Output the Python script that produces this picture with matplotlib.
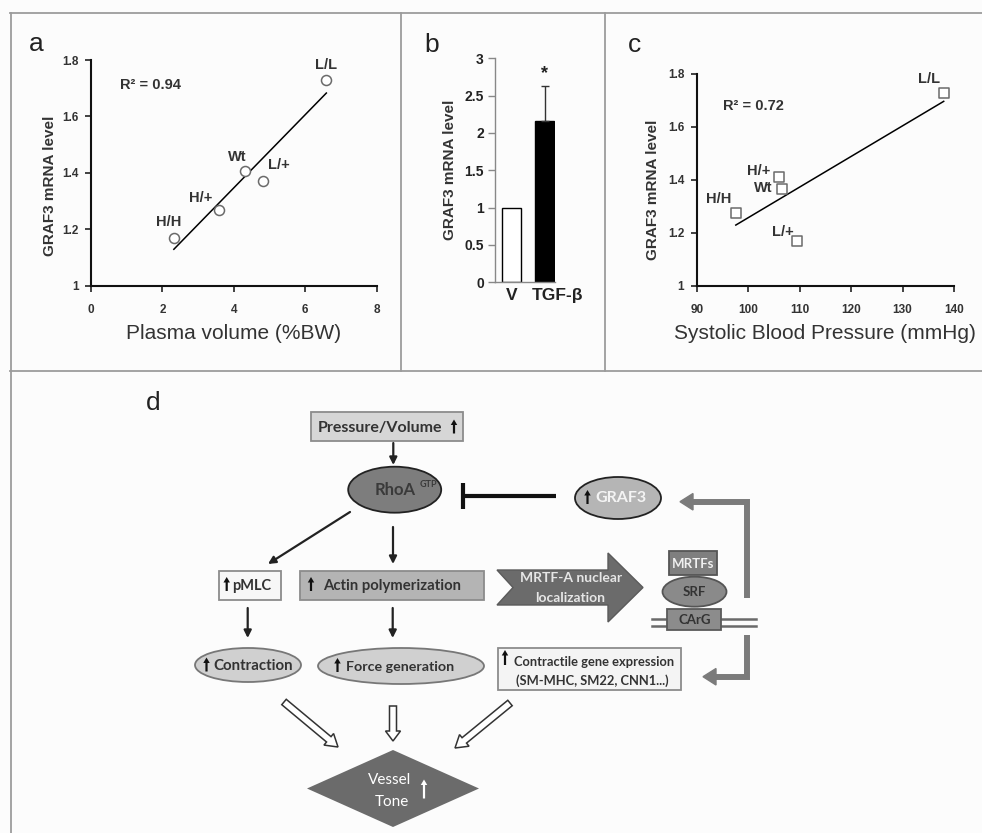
import numpy as np
import matplotlib
matplotlib.use('Agg')
import matplotlib.pyplot as plt
from matplotlib.patches import Rectangle, Ellipse, Polygon, FancyArrow

plt.rcParams['font.family'] = ['Liberation Sans', 'DejaVu Sans']
DIAG = ['Lato', 'DejaVu Sans']

# panel a: GRAF3 vs plasma volume
labels_a = ['H/H', 'H/+', 'Wt', 'L/+', 'L/L']
plasma_volume = [2.32, 3.58, 4.31, 4.82, 6.59]
graf3_a = [1.17, 1.27, 1.405, 1.37, 1.73]

# panel b: GRAF3 after TGF-beta
treatments = ['V', 'TGF-β']
graf3_b = [1.0, 2.16]
graf3_b_err = [0.0, 0.47]

# panel c: GRAF3 vs systolic blood pressure
labels_c = ['H/H', 'H/+', 'Wt', 'L/+', 'L/L']
systolic_bp = [97.6, 105.9, 106.5, 109.5, 138.0]
graf3_c = [1.275, 1.41, 1.365, 1.17, 1.73]

W, H = 982, 833
fig = plt.figure(figsize=(W / 100, H / 100), dpi=100, facecolor='#fcfcfc')


def px_axes(x0, y0, x1, y1):
    # pixel box, origin top-left -> figure fractions
    return fig.add_axes([x0 / W, 1 - y1 / H, (x1 - x0) / W, (y1 - y0) / H])


# background axes in pixel units, used for borders and the diagram
bg = fig.add_axes([0, 0, 1, 1])
bg.set_xlim(0, W)
bg.set_ylim(H, 0)
bg.axis('off')

border = dict(color='#9c9c9c', lw=1.3)
bg.plot([10, W], [13, 13], **border)
bg.plot([11, 11], [13, H], **border)
bg.plot([10, W], [371, 371], **border)
bg.plot([401.5, 401.5], [13, 371], **border)
bg.plot([605, 605], [13, 371], **border)

for x, y, s in [(36, 51, 'a'), (432, 52, 'b'), (635, 52, 'c'), (153, 410, 'd')]:
    bg.text(x, y, s, fontsize=19, ha='center', va='baseline', color='#222')


def fmt(v):
    return '%g' % v


def scatter_panel(ax, x, y, names, offs, marker, xticks, xlabel, r2, r2xy, ylab_xy):
    ax.scatter(x, y, s=52, marker=marker, facecolor='white', edgecolor='#6a6a6a',
               lw=1.1, zorder=3)
    k, b = np.polyfit(x, y, 1)
    xs = np.array([min(x), max(x)])
    ax.plot(xs, k * xs + b, color='black', lw=1.1, zorder=2)
    for xi, yi, n, o in zip(x, y, names, offs):
        ax.annotate(n, (xi, yi), xytext=o, textcoords='offset pixels', ha='center',
                    va='center', fontsize=10.5, fontweight='bold', color='#333')
    ax.text(r2xy[0], r2xy[1], r2, transform=ax.transAxes, ha='center', va='center',
            fontsize=10.5, fontweight='bold', color='#333')
    ax.set_xlim(xticks[0], xticks[-1])
    ax.set_ylim(1, 1.8)
    yt = [1, 1.2, 1.4, 1.6, 1.8]
    ax.set_xticks(xticks, labels=[fmt(t) for t in xticks], fontweight='bold')
    ax.set_yticks(yt, labels=[fmt(t) for t in yt], fontweight='bold')
    ax.tick_params(direction='out', length=4, width=1.3, labelsize=8.5, colors='#333')
    ax.tick_params(axis='x', pad=9)
    ax.tick_params(axis='y', pad=5)
    for s in ['top', 'right']:
        ax.spines[s].set_visible(False)
    for s in ['left', 'bottom']:
        ax.spines[s].set_linewidth(1.5)
        ax.spines[s].set_color('#111')
    ax.set_xlabel(xlabel, fontsize=15, color='#333', labelpad=6)
    ax.set_ylabel('GRAF3 mRNA level', fontsize=11, fontweight='bold', color='#333')
    ax.yaxis.set_label_coords(*ylab_xy)
    ax.patch.set_alpha(0)


ax_a = px_axes(91, 60, 376.7, 285.7)
scatter_panel(ax_a, plasma_volume, graf3_a, labels_a,
              [(-5, 16), (-18, 12), (-8, 14), (16, 16), (0, 15)],
              'o', [0, 2, 4, 6, 8], 'Plasma volume (%BW)', 'R² = 0.94',
              (0.21, 0.89), (-0.119, 0.444))

ax_c = px_axes(696.7, 74, 954, 285.7)
scatter_panel(ax_c, systolic_bp, graf3_c, labels_c,
              [(-17, 14), (-20, 6), (-18, 1), (-14, 9), (-15, 14)],
              's', [90, 100, 110, 120, 130, 140], 'Systolic Blood Pressure (mmHg)',
              'R² = 0.72', (0.22, 0.85), (-0.143, 0.452))

# panel b bars
ax_b = px_axes(495, 58.3, 555, 282.3)
pos = np.arange(len(treatments))
ax_b.bar(pos, graf3_b, width=0.565, color=['white', 'black'], edgecolor='black', lw=1)
ax_b.errorbar(pos[1], graf3_b[1], yerr=[[0], [graf3_b_err[1]]], fmt='none',
              ecolor='#333', capsize=3, elinewidth=1)
ax_b.text(pos[1], 2.8, '*', ha='center', va='center', fontsize=13, fontweight='bold',
          color='#222')
ax_b.set_xlim(-0.488, 1.298)
ax_b.set_ylim(0, 3)
yt = [0, 0.5, 1, 1.5, 2, 2.5, 3]
ax_b.set_yticks(yt, labels=[fmt(t) for t in yt], fontweight='bold')
ax_b.set_xticks([])
# category names sit a little right of the bars, as in the original
for p, name, dx in zip(pos, treatments, [0.0, 0.36]):
    ax_b.text(p + dx, -0.057, name, transform=ax_b.get_xaxis_transform(), ha='center',
              va='center', fontsize=12.5, fontweight='bold', color='#222')
ax_b.tick_params(axis='y', direction='out', length=5, width=1, colors='#888',
                 labelcolor='#222', labelsize=10, pad=3)
for s in ['top', 'right']:
    ax_b.spines[s].set_visible(False)
for s in ['left', 'bottom']:
    ax_b.spines[s].set_color('#888')
    ax_b.spines[s].set_linewidth(1)
ax_b.set_ylabel('GRAF3 mRNA level', fontsize=11, fontweight='bold', color='#333')
ax_b.yaxis.set_label_coords(-0.63, 0.501)
ax_b.patch.set_alpha(0)


# ---- panel d: diagram in pixel coords ----
def box(x0, y0, x1, y1, fc, ec='#8c8c8c', lw=1.3, z=2):
    bg.add_patch(Rectangle((x0, y0), x1 - x0, y1 - y0, fc=fc, ec=ec, lw=lw, zorder=z))


def oval(cx, cy, w, h, fc, ec='#222', lw=1.3):
    bg.add_patch(Ellipse((cx, cy), w, h, fc=fc, ec=ec, lw=lw, zorder=2))


def txt(x, y, s, size=10, color='#333', weight='bold', ha='center'):
    bg.text(x, y, s, fontsize=size, color=color, fontweight=weight, ha=ha, va='center',
            family=DIAG, zorder=5)


def up(x, yc, h=14, color='#111'):
    # small bold "increase" arrow
    bg.add_patch(FancyArrow(x, yc + h / 2, 0, -h, width=2.2, head_width=6.5,
                            head_length=5.5, length_includes_head=True, fc=color,
                            ec='none', zorder=6))


def arrow(x0, y0, x1, y1, color='#222'):
    bg.annotate('', xy=(x1, y1), xytext=(x0, y0),
                arrowprops=dict(arrowstyle='-|>', lw=1.6, color=color, mutation_scale=11,
                                shrinkA=0, shrinkB=0), zorder=4)


def hollow(x0, y0, x1, y1, hl=12):
    bg.add_patch(FancyArrow(x0, y0, x1 - x0, y1 - y0, width=7, head_width=15,
                            head_length=hl, length_includes_head=True, fc='white',
                            ec='#333', lw=1.1, zorder=3))


# pressure / volume box
box(311, 412, 463, 441, '#d6d6d6')
txt(318, 427.5, 'Pressure/Volume', size=11.5, ha='left')
up(454, 426.5)
arrow(393.3, 443, 393.3, 465)

# RhoA
oval(394.7, 489.7, 93, 46, '#7d7d7d')
txt(395, 490, 'RhoA', size=12, color='#3a3a3a')
txt(428, 484, 'GTP', size=6.5, color='#3a3a3a')

# inhibition by GRAF3
bg.plot([463, 556], [495.7, 495.7], color='#111', lw=3, solid_capstyle='butt')
bg.plot([463, 463], [482.5, 508.5], color='#111', lw=3, solid_capstyle='butt')
oval(618, 498, 86, 42, '#b5b5b5')
up(587.5, 497)
txt(621, 498, 'GRAF3', size=11.5, color='#f4f4f4', weight='bold')

# RhoA outputs
arrow(350, 512, 268, 564)
arrow(393, 527, 393, 564)
box(219, 571, 281, 600, '#f7f7f7')
up(226.7, 584)
txt(232.5, 586, 'pMLC', size=10.5, ha='left')
box(300, 571, 484, 600, '#b4b4b4')
up(311, 584)
txt(323, 586, 'Actin polymerization', size=10.7, ha='left')
arrow(247.7, 608, 247.7, 638)
arrow(392.7, 608, 392.7, 638)
oval(248, 665, 106, 34, '#d0d0d0', ec='#777')
up(206.5, 664.5)
txt(213, 666, 'Contraction', size=10.8, ha='left')
oval(401, 666, 166, 36, '#d0d0d0', ec='#777')
up(337.5, 665)
txt(346, 667, 'Force generation', size=10.3, ha='left')

# MRTF-A nuclear localization arrow
bg.add_patch(Polygon([(497, 570), (608, 570), (608, 553), (643, 587.5), (608, 622),
                      (608, 605), (497, 605), (513, 587.5)], closed=True,
                     fc='#6b6b6b', ec='#5a5a5a', lw=1, zorder=2))
txt(571, 578.5, 'MRTF-A nuclear', size=10, color='#e6e6e6')
txt(570, 597.5, 'localization', size=10, color='#e6e6e6')

# MRTFs / SRF / CArG complex
for yy in (619, 625.5):
    bg.plot([652, 756], [yy, yy], color='#6a6a6a', lw=1.8, zorder=1)
box(667.5, 608.5, 721.5, 630, '#8c8c8c', ec='#5a5a5a')
txt(694.5, 619.5, 'CArG', size=9.5, color='#333')
oval(694.5, 591.7, 64, 30, '#8a8a8a', ec='#555')
txt(694.5, 592.5, 'SRF', size=9.5, color='#333')
box(669.5, 551, 717.5, 575, '#7f7f7f', ec='#555')
txt(693.5, 563.5, 'MRTFs', size=9.5, color='#f0f0f0')

# feedback arrows (thick gray)
gray = '#7b7b7b'
bg.plot([746.7, 746.7, 693], [598, 501.7, 501.7], color=gray, lw=4.3,
        solid_joinstyle='miter', solid_capstyle='butt', zorder=2)
bg.add_patch(Polygon([(680, 501.7), (693, 493.5), (693, 510)], fc=gray, ec=gray, zorder=2))
bg.plot([746.7, 746.7, 716], [635, 676.7, 676.7], color=gray, lw=4.3,
        solid_joinstyle='miter', solid_capstyle='butt', zorder=2)
bg.add_patch(Polygon([(703, 676.7), (716, 668.5), (716, 685)], fc=gray, ec=gray, zorder=2))

# contractile genes
box(498, 648, 681, 690, '#f4f4f4')
up(505, 657.5, h=15)
txt(594, 662.3, 'Contractile gene expression', size=9.3)
txt(592, 680.7, '(SM-MHC, SM22, CNN1...)', size=9.3)

# convergence on vessel tone
hollow(284, 702, 338, 747)
hollow(393, 706, 393, 741, hl=10)
hollow(510, 703, 455, 748)
bg.add_patch(Polygon([(393, 750), (479, 788.5), (393, 827), (307, 788.5)], closed=True,
                     fc='#6b6b6b', ec='none', zorder=2))
txt(390, 780, 'Vessel', size=11, color='white', weight='normal')
txt(392, 802, 'Tone', size=11, color='white', weight='normal')
up(424, 789, h=19, color='white')

fig.savefig('out.png', dpi=100, facecolor=fig.get_facecolor())
